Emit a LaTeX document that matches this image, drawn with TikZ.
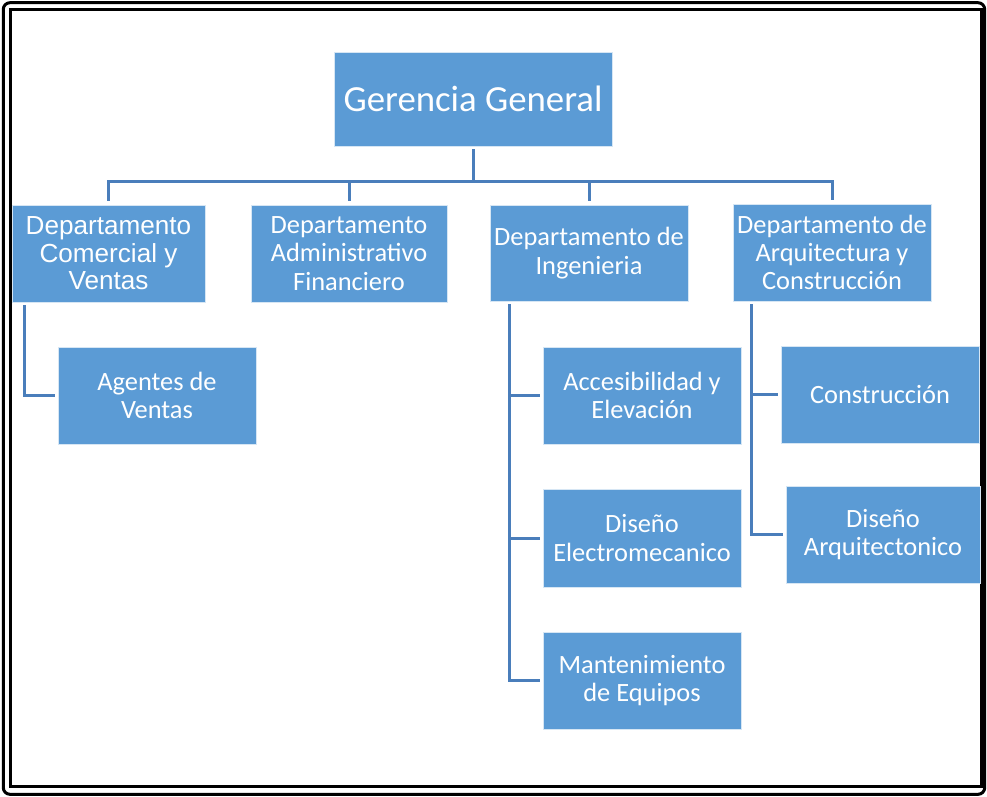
\documentclass[tikz,border=0pt]{standalone}
\usepackage{fontspec}
\setmainfont{Carlito}
\newfontfamily\arialfont{Liberation Sans}
\usepackage{tikz}
\usetikzlibrary{calc}
\definecolor{boxblue}{HTML}{5B9BD5}
\definecolor{linkblue}{HTML}{4A7EBB}

\begin{document}
\begin{tikzpicture}[x=0.75pt,y=-0.75pt,
  unit/.style={rectangle,fill=boxblue,draw=white!75!boxblue,line width=0.4pt,
    text=white,align=center,inner sep=0pt,minimum width=148.5pt,minimum height=72.75pt,
    font=\fontsize{19.8}{21.2}\selectfont},
  link/.style={draw=linkblue,line width=2.25pt}]
\useasboundingbox (0,0) rectangle (987,796);
\draw[line width=2.25pt,rounded corners=5pt] (3.3,2.7) rectangle (984.7,794.3);
\draw[line width=2.25pt] (10.5,9.3) rectangle (981.3,786.5);

\node[unit,minimum width=208.5pt,minimum height=70.5pt,font=\fontsize{27.6}{33}\selectfont] (gg) at (473,99) {Gerencia General};
\node[unit,minimum width=144.75pt,font=\arialfont\fontsize{19.6}{20.6}\selectfont] (dcv) at (108.5,253.5) {Departamento\\Comercial y\\Ventas};
\node[unit,minimum width=147pt] (daf) at (349,253.5) {Departamento\\Administrativo\\Financiero};
\node[unit,minimum height=72pt] (din) at (589,253) {Departamento de\\Ingenieria};
\node[unit] (dac) at (832,252.5) {Departamento de\\Arquitectura y\\Construcción};

\node[unit] (agv) at (157,395.5) {Agentes de\\Ventas};
\node[unit] (ael) at (642,395.5) {Accesibilidad y\\Elevación};
\node[unit,minimum height=73.5pt] (del) at (642,538) {Diseño\\Electromecanico};
\node[unit] (meq) at (642,680.5) {Mantenimiento\\de Equipos};
\node[unit] (con) at (880,394.5) {Construcción};
\node[unit,minimum width=145.5pt] (dar) at (883,534.5) {Diseño\\Arquitectonico};

\coordinate (bus) at (473,181);
\draw[link,shorten <=2.25pt] (gg.south) -- (bus);
\foreach \d in {dcv,daf,din,dac}
  \draw[link,shorten >=3pt] (bus) -| (\d.north);

\draw[link,shorten >=2pt] ($(dcv.south west)+(13,3)$) |- (agv.west);
\foreach \s in {ael,del,meq}
  \draw[link,shorten >=2pt] ($(din.south west)+(19.5,3)$) |- (\s.west);
\foreach \s in {con,dar}
  \draw[link,shorten >=2pt] ($(dac.south west)+(18.7,3)$) |- (\s.west);
\end{tikzpicture}
\end{document}
